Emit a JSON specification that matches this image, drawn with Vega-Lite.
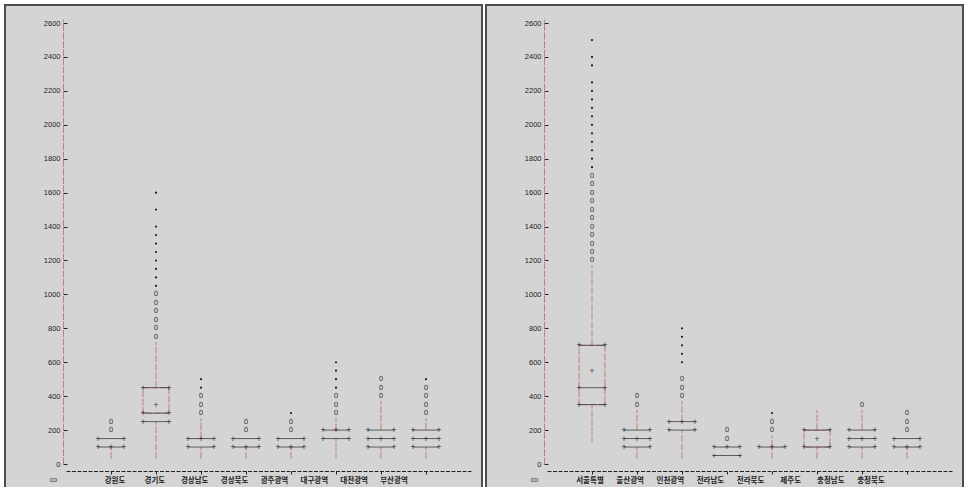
{
  "$schema": "https://vega.github.io/schema/vega-lite/v6.json",
  "background": "white",
  "padding": {"left": 4, "top": 4, "right": 0, "bottom": 0},
  "autosize": {"type": "pad"},
  "config": {
    "view": {"fill": "#d4d4d4", "stroke": "#4d4d4d", "strokeWidth": 2},
    "concat": {"spacing": 2},
    "axis": {"labelOverlap": false, "labelSeparation": 0},
    "axisY": {"labelOverlap": false, "labelSeparation": 0}
  },
  "datasets": {
    "pts": [
      {"panel": "L", "region": "강원도", "value": 250, "sym": "0"},
      {"panel": "L", "region": "강원도", "value": 200, "sym": "0"},
      {"panel": "L", "region": "경기도", "value": 1600, "sym": "*"},
      {"panel": "L", "region": "경기도", "value": 1500, "sym": "*"},
      {"panel": "L", "region": "경기도", "value": 1400, "sym": "*"},
      {"panel": "L", "region": "경기도", "value": 1350, "sym": "*"},
      {"panel": "L", "region": "경기도", "value": 1300, "sym": "*"},
      {"panel": "L", "region": "경기도", "value": 1250, "sym": "*"},
      {"panel": "L", "region": "경기도", "value": 1200, "sym": "*"},
      {"panel": "L", "region": "경기도", "value": 1150, "sym": "*"},
      {"panel": "L", "region": "경기도", "value": 1100, "sym": "*"},
      {"panel": "L", "region": "경기도", "value": 1050, "sym": "*"},
      {"panel": "L", "region": "경기도", "value": 1000, "sym": "0"},
      {"panel": "L", "region": "경기도", "value": 950, "sym": "0"},
      {"panel": "L", "region": "경기도", "value": 900, "sym": "0"},
      {"panel": "L", "region": "경기도", "value": 850, "sym": "0"},
      {"panel": "L", "region": "경기도", "value": 800, "sym": "0"},
      {"panel": "L", "region": "경기도", "value": 750, "sym": "0"},
      {"panel": "L", "region": "경기도", "value": 350, "sym": "+"},
      {"panel": "L", "region": "경상남도", "value": 500, "sym": "*"},
      {"panel": "L", "region": "경상남도", "value": 450, "sym": "*"},
      {"panel": "L", "region": "경상남도", "value": 400, "sym": "0"},
      {"panel": "L", "region": "경상남도", "value": 350, "sym": "0"},
      {"panel": "L", "region": "경상남도", "value": 300, "sym": "0"},
      {"panel": "L", "region": "경상북도", "value": 250, "sym": "0"},
      {"panel": "L", "region": "경상북도", "value": 200, "sym": "0"},
      {"panel": "L", "region": "광주광역", "value": 300, "sym": "*"},
      {"panel": "L", "region": "광주광역", "value": 250, "sym": "0"},
      {"panel": "L", "region": "광주광역", "value": 200, "sym": "0"},
      {"panel": "L", "region": "대구광역", "value": 600, "sym": "*"},
      {"panel": "L", "region": "대구광역", "value": 550, "sym": "*"},
      {"panel": "L", "region": "대구광역", "value": 500, "sym": "*"},
      {"panel": "L", "region": "대구광역", "value": 450, "sym": "*"},
      {"panel": "L", "region": "대구광역", "value": 400, "sym": "0"},
      {"panel": "L", "region": "대구광역", "value": 350, "sym": "0"},
      {"panel": "L", "region": "대구광역", "value": 300, "sym": "0"},
      {"panel": "L", "region": "대전광역", "value": 500, "sym": "0"},
      {"panel": "L", "region": "대전광역", "value": 450, "sym": "0"},
      {"panel": "L", "region": "대전광역", "value": 400, "sym": "0"},
      {"panel": "L", "region": "부산광역", "value": 500, "sym": "*"},
      {"panel": "L", "region": "부산광역", "value": 450, "sym": "0"},
      {"panel": "L", "region": "부산광역", "value": 400, "sym": "0"},
      {"panel": "L", "region": "부산광역", "value": 350, "sym": "0"},
      {"panel": "L", "region": "부산광역", "value": 300, "sym": "0"},
      {"panel": "R", "region": "서울특별", "value": 2500, "sym": "*"},
      {"panel": "R", "region": "서울특별", "value": 2400, "sym": "*"},
      {"panel": "R", "region": "서울특별", "value": 2350, "sym": "*"},
      {"panel": "R", "region": "서울특별", "value": 2250, "sym": "*"},
      {"panel": "R", "region": "서울특별", "value": 2200, "sym": "*"},
      {"panel": "R", "region": "서울특별", "value": 2150, "sym": "*"},
      {"panel": "R", "region": "서울특별", "value": 2100, "sym": "*"},
      {"panel": "R", "region": "서울특별", "value": 2050, "sym": "*"},
      {"panel": "R", "region": "서울특별", "value": 2000, "sym": "*"},
      {"panel": "R", "region": "서울특별", "value": 1950, "sym": "*"},
      {"panel": "R", "region": "서울특별", "value": 1900, "sym": "*"},
      {"panel": "R", "region": "서울특별", "value": 1850, "sym": "*"},
      {"panel": "R", "region": "서울특별", "value": 1800, "sym": "*"},
      {"panel": "R", "region": "서울특별", "value": 1750, "sym": "*"},
      {"panel": "R", "region": "서울특별", "value": 1700, "sym": "0"},
      {"panel": "R", "region": "서울특별", "value": 1650, "sym": "0"},
      {"panel": "R", "region": "서울특별", "value": 1600, "sym": "0"},
      {"panel": "R", "region": "서울특별", "value": 1550, "sym": "0"},
      {"panel": "R", "region": "서울특별", "value": 1500, "sym": "0"},
      {"panel": "R", "region": "서울특별", "value": 1450, "sym": "0"},
      {"panel": "R", "region": "서울특별", "value": 1400, "sym": "0"},
      {"panel": "R", "region": "서울특별", "value": 1350, "sym": "0"},
      {"panel": "R", "region": "서울특별", "value": 1300, "sym": "0"},
      {"panel": "R", "region": "서울특별", "value": 1250, "sym": "0"},
      {"panel": "R", "region": "서울특별", "value": 1200, "sym": "0"},
      {"panel": "R", "region": "서울특별", "value": 550, "sym": "+"},
      {"panel": "R", "region": "울산광역", "value": 400, "sym": "0"},
      {"panel": "R", "region": "울산광역", "value": 350, "sym": "0"},
      {"panel": "R", "region": "인천광역", "value": 800, "sym": "*"},
      {"panel": "R", "region": "인천광역", "value": 750, "sym": "*"},
      {"panel": "R", "region": "인천광역", "value": 700, "sym": "*"},
      {"panel": "R", "region": "인천광역", "value": 650, "sym": "*"},
      {"panel": "R", "region": "인천광역", "value": 600, "sym": "*"},
      {"panel": "R", "region": "인천광역", "value": 500, "sym": "0"},
      {"panel": "R", "region": "인천광역", "value": 450, "sym": "0"},
      {"panel": "R", "region": "인천광역", "value": 400, "sym": "0"},
      {"panel": "R", "region": "전라남도", "value": 200, "sym": "0"},
      {"panel": "R", "region": "전라남도", "value": 150, "sym": "0"},
      {"panel": "R", "region": "전라북도", "value": 300, "sym": "*"},
      {"panel": "R", "region": "전라북도", "value": 250, "sym": "0"},
      {"panel": "R", "region": "전라북도", "value": 200, "sym": "0"},
      {"panel": "R", "region": "제주도", "value": 150, "sym": "+"},
      {"panel": "R", "region": "충청남도", "value": 350, "sym": "0"},
      {"panel": "R", "region": "충청북도", "value": 300, "sym": "0"},
      {"panel": "R", "region": "충청북도", "value": 250, "sym": "0"},
      {"panel": "R", "region": "충청북도", "value": 200, "sym": "0"}
    ],
    "lines": [
      {"panel": "L", "region": "강원도", "value": 150, "mid": false},
      {"panel": "L", "region": "강원도", "value": 100, "mid": true},
      {"panel": "L", "region": "경기도", "value": 450, "mid": false},
      {"panel": "L", "region": "경기도", "value": 300, "mid": false},
      {"panel": "L", "region": "경기도", "value": 250, "mid": false},
      {"panel": "L", "region": "경상남도", "value": 150, "mid": true},
      {"panel": "L", "region": "경상남도", "value": 100, "mid": false},
      {"panel": "L", "region": "경상북도", "value": 150, "mid": false},
      {"panel": "L", "region": "경상북도", "value": 100, "mid": true},
      {"panel": "L", "region": "광주광역", "value": 150, "mid": false},
      {"panel": "L", "region": "광주광역", "value": 100, "mid": true},
      {"panel": "L", "region": "대구광역", "value": 200, "mid": true},
      {"panel": "L", "region": "대구광역", "value": 150, "mid": false},
      {"panel": "L", "region": "대전광역", "value": 200, "mid": false},
      {"panel": "L", "region": "대전광역", "value": 150, "mid": true},
      {"panel": "L", "region": "대전광역", "value": 100, "mid": false},
      {"panel": "L", "region": "부산광역", "value": 200, "mid": false},
      {"panel": "L", "region": "부산광역", "value": 150, "mid": true},
      {"panel": "L", "region": "부산광역", "value": 100, "mid": false},
      {"panel": "R", "region": "서울특별", "value": 700, "mid": false},
      {"panel": "R", "region": "서울특별", "value": 450, "mid": false},
      {"panel": "R", "region": "서울특별", "value": 350, "mid": false},
      {"panel": "R", "region": "울산광역", "value": 200, "mid": false},
      {"panel": "R", "region": "울산광역", "value": 150, "mid": true},
      {"panel": "R", "region": "울산광역", "value": 100, "mid": false},
      {"panel": "R", "region": "인천광역", "value": 250, "mid": true},
      {"panel": "R", "region": "인천광역", "value": 200, "mid": false},
      {"panel": "R", "region": "전라남도", "value": 100, "mid": true},
      {"panel": "R", "region": "전라남도", "value": 50, "mid": false},
      {"panel": "R", "region": "전라북도", "value": 100, "mid": true},
      {"panel": "R", "region": "제주도", "value": 200, "mid": false},
      {"panel": "R", "region": "제주도", "value": 100, "mid": false},
      {"panel": "R", "region": "충청남도", "value": 200, "mid": false},
      {"panel": "R", "region": "충청남도", "value": 150, "mid": true},
      {"panel": "R", "region": "충청남도", "value": 100, "mid": false},
      {"panel": "R", "region": "충청북도", "value": 150, "mid": false},
      {"panel": "R", "region": "충청북도", "value": 100, "mid": true}
    ],
    "whiskers": [
      {"panel": "L", "region": "강원도", "lo": 30, "hi": 100},
      {"panel": "L", "region": "경기도", "lo": 30, "hi": 250},
      {"panel": "L", "region": "경기도", "lo": 450, "hi": 720},
      {"panel": "L", "region": "경상남도", "lo": 30, "hi": 100},
      {"panel": "L", "region": "경상남도", "lo": 150, "hi": 270},
      {"panel": "L", "region": "경상북도", "lo": 30, "hi": 100},
      {"panel": "L", "region": "광주광역", "lo": 30, "hi": 100},
      {"panel": "L", "region": "대구광역", "lo": 30, "hi": 150},
      {"panel": "L", "region": "대구광역", "lo": 200, "hi": 270},
      {"panel": "L", "region": "대전광역", "lo": 30, "hi": 100},
      {"panel": "L", "region": "대전광역", "lo": 200, "hi": 370},
      {"panel": "L", "region": "부산광역", "lo": 30, "hi": 100},
      {"panel": "L", "region": "부산광역", "lo": 200, "hi": 270},
      {"panel": "R", "region": "서울특별", "lo": 125, "hi": 350},
      {"panel": "R", "region": "서울특별", "lo": 700, "hi": 1170},
      {"panel": "R", "region": "울산광역", "lo": 30, "hi": 100},
      {"panel": "R", "region": "울산광역", "lo": 200, "hi": 320},
      {"panel": "R", "region": "인천광역", "lo": 30, "hi": 200},
      {"panel": "R", "region": "인천광역", "lo": 250, "hi": 370},
      {"panel": "R", "region": "전라북도", "lo": 30, "hi": 100},
      {"panel": "R", "region": "전라북도", "lo": 100, "hi": 170},
      {"panel": "R", "region": "제주도", "lo": 30, "hi": 100},
      {"panel": "R", "region": "제주도", "lo": 200, "hi": 320},
      {"panel": "R", "region": "충청남도", "lo": 30, "hi": 100},
      {"panel": "R", "region": "충청남도", "lo": 200, "hi": 320},
      {"panel": "R", "region": "충청북도", "lo": 30, "hi": 100}
    ],
    "boxes": [
      {"panel": "L", "region": "경기도", "q1": 300, "q3": 450},
      {"panel": "R", "region": "서울특별", "q1": 350, "q3": 700},
      {"panel": "R", "region": "제주도", "q1": 100, "q3": 200}
    ],
    "regions": [
      {"panel": "L", "region": "강원도"},
      {"panel": "L", "region": "경기도"},
      {"panel": "L", "region": "경상남도"},
      {"panel": "L", "region": "경상북도"},
      {"panel": "L", "region": "광주광역"},
      {"panel": "L", "region": "대구광역"},
      {"panel": "L", "region": "대전광역"},
      {"panel": "L", "region": "부산광역"},
      {"panel": "R", "region": "서울특별"},
      {"panel": "R", "region": "울산광역"},
      {"panel": "R", "region": "인천광역"},
      {"panel": "R", "region": "전라남도"},
      {"panel": "R", "region": "전라북도"},
      {"panel": "R", "region": "제주도"},
      {"panel": "R", "region": "충청남도"},
      {"panel": "R", "region": "충청북도"}
    ]
  },
  "hconcat": [
    {
      "width": 477,
      "height": 490,
      "resolve": {"scale": {"x": "independent"}},
      "encoding": {
        "y": {"type": "quantitative",
          "scale": {"domain": [0, 2624], "range": [459, 14], "nice": false, "zero": false},
          "axis": {"orient": "left", "offset": -58, "values": [0, 200, 400, 600, 800, 1000, 1200, 1400, 1600, 1800, 2000, 2200, 2400, 2600], "format": "d", "labelOverlap": false, "grid": false, "domainColor": "#c27f7f", "domainDash": [7, 1.5], "tickColor": "#222222", "tickSize": -4, "labelFont": "Liberation Sans", "labelFontSize": 7.5, "labelColor": "#222222", "labelPadding": 7, "title": null}}
      },
      "layer": [
        {
          "encoding": {
            "x": {
              "field": "region", "type": "nominal",
              "scale": {"type": "point", "domain": ["강원도", "경기도", "경상남도", "경상북도", "광주광역", "대구광역", "대전광역", "부산광역"], "range": [61, 466], "padding": 1.06},
              "axis": {"orient": "bottom", "offset": -24, "labels": false, "domainColor": "#222222", "domainDash": [4, 1.5], "tickColor": "#222222", "tickSize": 3, "title": "co", "titleFont": "Liberation Sans", "titleFontSize": 7, "titleFontWeight": "normal", "titleColor": "#333333", "titleX": 48, "titleY": 10, "titleBaseline": "alphabetic", "titleAlign": "center", "titleAngle": 0}
            }
          },
          "layer": [
            {
              "data": {"name": "whiskers"},
              "transform": [{"filter": "datum.panel == 'L'"}],
              "mark": {"type": "rule", "color": "#c27f7f", "strokeDash": [7, 1.5], "strokeWidth": 1},
              "encoding": {"y": {"field": "lo"}, "y2": {"field": "hi"}}
            },
            {
              "data": {"name": "boxes"},
              "transform": [{"filter": "datum.panel == 'L'"}],
              "mark": {"type": "bar", "size": 26, "fill": "#d4d4d4", "fillOpacity": 0, "stroke": "#c27f7f", "strokeDash": [7, 1.5], "strokeWidth": 1},
              "encoding": {"y": {"field": "q1"}, "y2": {"field": "q3"}}
            },
            {
              "data": {"name": "lines"},
              "transform": [{"filter": "datum.panel == 'L'"}],
              "mark": {"type": "tick", "color": "#2a2a2a", "size": 26, "thickness": 1},
              "encoding": {"y": {"field": "value"}}
            },
            {
              "data": {"name": "lines"},
              "transform": [{"filter": "datum.panel == 'L'"}],
              "mark": {"type": "text", "text": "+", "dx": -13, "font": "DejaVu Sans", "fontSize": 7, "baseline": "middle", "color": "#222222"},
              "encoding": {"y": {"field": "value"}}
            },
            {
              "data": {"name": "lines"},
              "transform": [{"filter": "datum.panel == 'L'"}],
              "mark": {"type": "text", "text": "+", "dx": 13, "font": "DejaVu Sans", "fontSize": 7, "baseline": "middle", "color": "#222222"},
              "encoding": {"y": {"field": "value"}}
            },
            {
              "data": {"name": "lines"},
              "transform": [{"filter": "datum.panel == 'L' && datum.mid"}],
              "mark": {"type": "text", "text": "+", "font": "DejaVu Sans", "fontSize": 7, "baseline": "middle", "color": "#222222"},
              "encoding": {"y": {"field": "value"}}
            },
            {
              "data": {"name": "pts"},
              "transform": [{"filter": "datum.panel == 'L' && datum.sym != '*'"}],
              "mark": {"type": "text", "font": "DejaVu Sans", "fontSize": 7, "baseline": "middle", "color": "#3a3a3a"},
              "encoding": {"y": {"field": "value"}, "text": {"field": "sym"}}
            },
            {
              "data": {"name": "pts"},
              "transform": [{"filter": "datum.panel == 'L' && datum.sym == '*'"}],
              "mark": {"type": "circle", "size": 5, "color": "#222222", "opacity": 1},
              "encoding": {"y": {"field": "value"}}
            }
          ]
        },
        {
          "data": {"name": "regions"},
          "transform": [{"filter": "datum.panel == 'L'"}],
          "mark": {"type": "text", "font": "Noto Sans CJK KR", "fontSize": 7.5, "fontWeight": "bold", "baseline": "middle", "align": "center", "color": "#222222"},
          "encoding": {
            "x": {"field": "region", "type": "nominal", "scale": {"type": "point", "domain": ["강원도", "경기도", "경상남도", "경상북도", "광주광역", "대구광역", "대전광역", "부산광역"], "range": [110, 389], "padding": 0}, "axis": null},
            "y": {"datum": -100, "type": "quantitative"},
            "text": {"field": "region"}
          }
        }
      ]
    },
    {
      "width": 477,
      "height": 490,
      "resolve": {"scale": {"x": "independent"}},
      "encoding": {
        "y": {"type": "quantitative",
          "scale": {"domain": [0, 2624], "range": [459, 14], "nice": false, "zero": false},
          "axis": {"orient": "left", "offset": -58, "values": [0, 200, 400, 600, 800, 1000, 1200, 1400, 1600, 1800, 2000, 2200, 2400, 2600], "format": "d", "labelOverlap": false, "grid": false, "domainColor": "#c27f7f", "domainDash": [7, 1.5], "tickColor": "#222222", "tickSize": -4, "labelFont": "Liberation Sans", "labelFontSize": 7.5, "labelColor": "#222222", "labelPadding": 7, "title": null}}
      },
      "layer": [
        {
          "encoding": {
            "x": {
              "field": "region", "type": "nominal",
              "scale": {"type": "point", "domain": ["서울특별", "울산광역", "인천광역", "전라남도", "전라북도", "제주도", "충청남도", "충청북도"], "range": [61, 466], "padding": 1.06},
              "axis": {"orient": "bottom", "offset": -24, "labels": false, "domainColor": "#222222", "domainDash": [4, 1.5], "tickColor": "#222222", "tickSize": 3, "title": "co", "titleFont": "Liberation Sans", "titleFontSize": 7, "titleFontWeight": "normal", "titleColor": "#333333", "titleX": 48, "titleY": 10, "titleBaseline": "alphabetic", "titleAlign": "center", "titleAngle": 0}
            }
          },
          "layer": [
            {
              "data": {"name": "whiskers"},
              "transform": [{"filter": "datum.panel == 'R'"}],
              "mark": {"type": "rule", "color": "#c27f7f", "strokeDash": [7, 1.5], "strokeWidth": 1},
              "encoding": {"y": {"field": "lo"}, "y2": {"field": "hi"}}
            },
            {
              "data": {"name": "boxes"},
              "transform": [{"filter": "datum.panel == 'R'"}],
              "mark": {"type": "bar", "size": 26, "fill": "#d4d4d4", "fillOpacity": 0, "stroke": "#c27f7f", "strokeDash": [7, 1.5], "strokeWidth": 1},
              "encoding": {"y": {"field": "q1"}, "y2": {"field": "q3"}}
            },
            {
              "data": {"name": "lines"},
              "transform": [{"filter": "datum.panel == 'R'"}],
              "mark": {"type": "tick", "color": "#2a2a2a", "size": 26, "thickness": 1},
              "encoding": {"y": {"field": "value"}}
            },
            {
              "data": {"name": "lines"},
              "transform": [{"filter": "datum.panel == 'R'"}],
              "mark": {"type": "text", "text": "+", "dx": -13, "font": "DejaVu Sans", "fontSize": 7, "baseline": "middle", "color": "#222222"},
              "encoding": {"y": {"field": "value"}}
            },
            {
              "data": {"name": "lines"},
              "transform": [{"filter": "datum.panel == 'R'"}],
              "mark": {"type": "text", "text": "+", "dx": 13, "font": "DejaVu Sans", "fontSize": 7, "baseline": "middle", "color": "#222222"},
              "encoding": {"y": {"field": "value"}}
            },
            {
              "data": {"name": "lines"},
              "transform": [{"filter": "datum.panel == 'R' && datum.mid"}],
              "mark": {"type": "text", "text": "+", "font": "DejaVu Sans", "fontSize": 7, "baseline": "middle", "color": "#222222"},
              "encoding": {"y": {"field": "value"}}
            },
            {
              "data": {"name": "pts"},
              "transform": [{"filter": "datum.panel == 'R' && datum.sym != '*'"}],
              "mark": {"type": "text", "font": "DejaVu Sans", "fontSize": 7, "baseline": "middle", "color": "#3a3a3a"},
              "encoding": {"y": {"field": "value"}, "text": {"field": "sym"}}
            },
            {
              "data": {"name": "pts"},
              "transform": [{"filter": "datum.panel == 'R' && datum.sym == '*'"}],
              "mark": {"type": "circle", "size": 5, "color": "#222222", "opacity": 1},
              "encoding": {"y": {"field": "value"}}
            }
          ]
        },
        {
          "data": {"name": "regions"},
          "transform": [{"filter": "datum.panel == 'R'"}],
          "mark": {"type": "text", "font": "Noto Sans CJK KR", "fontSize": 7.5, "fontWeight": "bold", "baseline": "middle", "align": "center", "color": "#222222"},
          "encoding": {
            "x": {"field": "region", "type": "nominal", "scale": {"type": "point", "domain": ["서울특별", "울산광역", "인천광역", "전라남도", "전라북도", "제주도", "충청남도", "충청북도"], "range": [104, 385], "padding": 0}, "axis": null},
            "y": {"datum": -100, "type": "quantitative"},
            "text": {"field": "region"}
          }
        }
      ]
    }
  ]
}
